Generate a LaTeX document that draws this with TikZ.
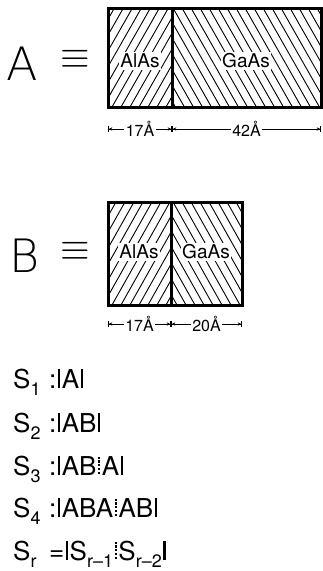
\documentclass[tikz,border=0pt]{standalone}
\usepackage{fontspec}
\setmainfont{TeX Gyre Heros}
\newfontfamily\thinfont{DejaVu Sans ExtraLight}
\usepackage{graphicx}
\usetikzlibrary{arrows.meta}
\newcommand{\cellbar}{\kern1.5pt\rule{0.09em}{0.72em}\kern1.5pt}
\newcommand{\dotbar}{\kern1.5pt\vbox to 0.74em{\cleaders\vbox to 0.148em{\vss\hrule width 0.09em height 0.08em\vss}\vfil}\kern1.5pt}
\newcommand{\lowsub}[1]{\raisebox{-0.3em}{\fontsize{18}{18}\selectfont #1}}
\newcommand{\rulehead}[1]{\makebox[36pt][l]{#1}}
\newcommand{\threebar}{\scalebox{3.8}[3.9]{$\equiv$}}

\begin{document}
\begin{tikzpicture}[x=1pt,y=-1pt,
  big/.style={anchor=base west,inner sep=0pt,font=\fontsize{46}{46}\thinfont},
  same/.style={inner sep=0pt},
  layer/.style={fill=white,inner sep=1.5pt,font=\fontsize{19}{19}\selectfont},
  hatch/.style={line width=0.9pt},
  frame/.style={line width=3pt},
  dimline/.style={line width=0.8pt,{Bar[width=6pt]Stealth[length=3.5pt,width=3.5pt]}-{Stealth[length=3.5pt,width=3.5pt]Bar[width=6pt]}},
  dimlbl/.style={fill=white,inner sep=1.5pt,font=\fontsize{16}{16}\selectfont},
  rule/.style={anchor=base west,inner sep=0pt,font=\fontsize{26}{26}\selectfont}]
\useasboundingbox (0,0) rectangle (323,571);
% A = AlAs 17 + GaAs 42
\node[big] (nameA) at (6,80) {A};
\node[same] (eqA) at (75,59) {\threebar};
\coordinate (A0) at (108,8);
\coordinate (Am) at (172,107);
\coordinate (A1) at (321,107);
\begin{scope}
  \clip (A0) rectangle (Am);
  \foreach \x in {40,49,...,180} \draw[hatch] (\x,107) -- ++(57,-100);
\end{scope}
\begin{scope}
  \clip (Am |- A0) rectangle (A1);
  \foreach \x in {110,119,...,330} \draw[hatch] (\x,8) -- ++(57,100);
\end{scope}
\draw[frame] (A0) rectangle (A1);
\draw[frame] (Am |- A0) -- (Am);
\node[layer] (alA) at (140,61) {AlAs};
\node[layer] (gaA) at (246,61) {GaAs};
\coordinate (dA0) at (108,129);
\coordinate (dAm) at (172,129);
\coordinate (dA1) at (321,129);
\draw[dimline] (dA0) -- (dAm) node[dimlbl,midway] (lA1) {17Å};
\draw[dimline] (dAm) -- (dA1) node[dimlbl,midway] (lA2) {42Å};
% B = AlAs 17 + GaAs 20
\node[big] (nameB) at (9,272) {B};
\node[same] (eqB) at (75,251) {\threebar};
\coordinate (B0) at (108,202);
\coordinate (Bm) at (171,305);
\coordinate (B1) at (242,305);
\begin{scope}
  \clip (B0) rectangle (Bm);
  \foreach \x in {40,49,...,180} \draw[hatch] (\x,305) -- ++(58,-103);
\end{scope}
\begin{scope}
  \clip (Bm |- B0) rectangle (B1);
  \foreach \x in {110,119,...,250} \draw[hatch] (\x,202) -- ++(58,103);
\end{scope}
\draw[frame] (B0) rectangle (B1);
\draw[frame] (Bm |- B0) -- (Bm);
\node[layer] (alB) at (139,252) {AlAs};
\node[layer] (gaB) at (206,252) {GaAs};
\coordinate (dB0) at (108,324);
\coordinate (dBm) at (171,324);
\coordinate (dB1) at (242,324);
\draw[dimline] (dB0) -- (dBm) node[dimlbl,midway] (lB1) {17Å};
\draw[dimline] (dBm) -- (dB1) node[dimlbl,midway] (lB2) {20Å};
% Fibonacci rule
\node[rule] (s1) at (13,388) {\rulehead{S\lowsub{1}}:\cellbar A\cellbar};
\node[rule] (s2) at (13,432) {\rulehead{S\lowsub{2}}:\cellbar AB\cellbar};
\node[rule] (s3) at (13,475) {\rulehead{S\lowsub{3}}:\cellbar AB\dotbar A\cellbar};
\node[rule] (s4) at (13,517) {\rulehead{S\lowsub{4}}:\cellbar ABA\dotbar AB\cellbar};
\node[rule] (sr) at (13,560) {\rulehead{S\lowsub{r}}=\cellbar S\lowsub{r–1}\dotbar S\lowsub{r–2}\cellbar};
\end{tikzpicture}
\end{document}
